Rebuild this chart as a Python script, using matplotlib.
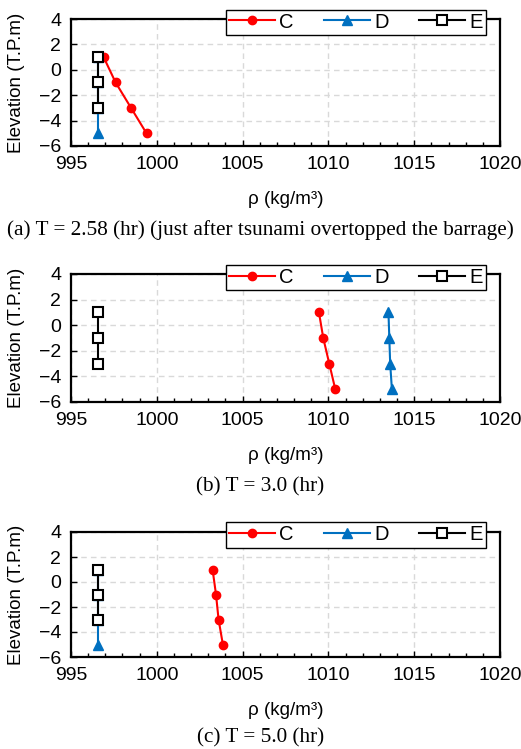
import matplotlib.pyplot as plt
from matplotlib.ticker import MultipleLocator

elev = [1, -1, -3, -5]
elev_e = [1, -1, -3]

# density profiles (kg/m3) per panel
c_a = [996.9, 997.6, 998.5, 999.4]
d_a = [996.6, 996.6, 996.6, 996.6]
e_a = [996.6, 996.6, 996.6]

c_b = [1009.45, 1009.7, 1010.05, 1010.4]
d_b = [1013.5, 1013.55, 1013.6, 1013.7]
e_b = [996.6, 996.6, 996.6]

c_c = [1003.25, 1003.45, 1003.6, 1003.85]
d_c = [996.6, 996.6, 996.6, 996.6]
e_c = [996.6, 996.6, 996.6]

captions = ['(a) T = 2.58 (hr) (just after tsunami overtopped the barrage)',
            '(b) T = 3.0 (hr)',
            '(c) T = 5.0 (hr)']

W, H = 521, 749
plt.rcParams['font.family'] = ['Liberation Sans', 'DejaVu Sans']

fig = plt.figure(figsize=(W / 100, H / 100), dpi=100)

# axes boxes in pixels: top, bottom
boxes = [(19, 146), (274, 402), (532, 657)]
caption_y = [230, 487, 738]
panels = [(c_a, d_a, e_a), (c_b, d_b, e_b), (c_c, d_c, e_c)]

for (top, bot), cy, (c, d, e), cap in zip(boxes, caption_y, panels, captions):
    ax = fig.add_axes([71 / W, 1 - bot / H, (500 - 71) / W, (bot - top) / H])
    ax.plot(c, elev, color='#FF0000', marker='o', ms=6, lw=1.5, label='C')
    ax.plot(d, elev, color='#0070C0', marker='^', ms=7, lw=1.5, label='D')
    ax.plot(e, elev_e, color='black', marker='s', ms=7.5, mfc='white', mew=1.5,
            lw=1.5, label='E')
    ax.set_xlim(995, 1020)
    ax.set_ylim(-6, 4)
    ax.xaxis.set_major_locator(MultipleLocator(5))
    ax.xaxis.set_minor_locator(MultipleLocator(1))
    ax.yaxis.set_major_locator(MultipleLocator(2))
    ax.tick_params(direction='in', labelsize=14, length=4, width=1, pad=7)
    ax.tick_params(which='minor', direction='in', length=3, width=1)
    ax.grid(True, color='#d9d9d9', ls=(0, (4, 3)), lw=1)
    for s in ax.spines.values():
        s.set_linewidth(1.6)
    ax.set_ylabel('Elevation (T.P.m)', fontsize=13.5, labelpad=10)
    ax.set_xlabel('ρ (kg/m³)', fontsize=13.5, labelpad=13)
    ax.legend(ncol=3, loc='center', bbox_to_anchor=(0.664, 0.976),
              fontsize=14.5, frameon=True, fancybox=False, edgecolor='black',
              framealpha=1, handlelength=2.3, columnspacing=1.5,
              borderpad=0.15, handletextpad=0.2)
    fig.text(0.5, 1 - cy / H, cap, ha='center', va='center',
             family='Liberation Serif', fontsize=15.3)

fig.savefig('out.png', dpi=100)
